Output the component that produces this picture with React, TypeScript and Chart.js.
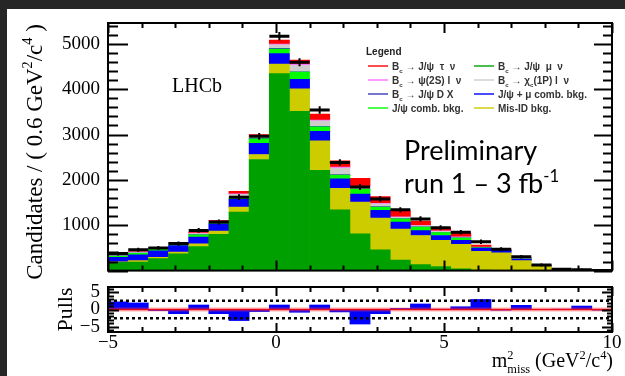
import React, { useEffect, useRef } from 'react';
import { Chart, registerables } from 'chart.js';

Chart.register(...registerables);

// Bin centres of m²_miss in GeV²/c⁴ (0.6 GeV²/c⁴ wide bins)
const M2_MISS = [-4.7, -4.1, -3.5, -2.9, -2.3, -1.7, -1.1, -0.5, 0.1, 0.7, 1.3, 1.9, 2.5, 3.1, 3.7, 4.3, 4.9, 5.5, 6.1, 6.7, 7.3, 7.9, 8.5, 9.1, 9.7];

// Fit components per bin, stacked from the bottom up
const BC_JPSI_MUNU = [185, 190, 265, 370, 530, 800, 1290, 2450, 4345, 3510, 2210, 1340, 810, 460, 230, 130, 90, 40, 10, 5, 0, 0, 0, 0, 0];
const MIS_ID = [10, 30, 30, 40, 60, 70, 110, 110, 210, 500, 650, 475, 700, 700, 686, 645, 580, 540, 415, 385, 220, 100, 25, 12, 4];
const JPSI_MU_COMB = [100, 125, 140, 140, 150, 160, 170, 245, 230, 210, 210, 210, 175, 170, 154, 105, 105, 90, 70, 55, 30, 10, 3, 2, 1];
const JPSI_COMB = [25, 35, 40, 40, 50, 30, 30, 100, 100, 160, 100, 80, 105, 70, 70, 80, 65, 45, 10, 5, 5, 3, 0, 0, 0];
const BC_JPSI_DX = [3, 5, 5, 5, 5, 5, 10, 10, 15, 5, 10, 15, 10, 10, 5, 5, 5, 5, 5, 5, 3, 2, 0, 0, 0];
const BC_CHIC = [5, 20, 10, 15, 20, 20, 70, 25, 80, 140, 120, 140, 40, 60, 30, 20, 20, 15, 5, 5, 5, 3, 0, 0, 0];
const BC_PSI2S = [3, 5, 5, 5, 10, 5, 15, 10, 15, 30, 20, 25, 20, 15, 10, 10, 10, 10, 5, 5, 2, 2, 0, 0, 0];
const BC_JPSI_TAUNU = [5, 10, 10, 10, 25, 20, 55, 50, 90, 85, 130, 135, 175, 145, 140, 95, 70, 80, 45, 15, 20, 5, 2, 1, 0];

// Observed candidates per bin and the fit pulls
const DATA = [375, 460, 500, 595, 885, 1070, 1620, 2960, 5170, 4595, 3540, 2385, 1845, 1580, 1340, 1140, 945, 845, 636, 470, 305, 125, 32, 20, 4];
const PULLS = [2.2, 1.9, -0.3, -1.2, 1.3, -1.2, -3.2, -0.6, 1.3, -0.8, 1.3, -0.7, -4.2, -1.2, 0.3, 1.6, 0.1, 0.8, 2.9, -0.2, 1.2, 0.0, 0.1, 1.0, -0.2];

// Axis ticks and ranges
const X_RANGE = [-5, 10];
const X_TICKS = [-5, 0, 5, 10];
const Y_RANGE = [0, 5460];
const Y_TICKS = [1000, 2000, 3000, 4000, 5000];
const PULL_RANGE = [-6.5, 6.5];
const PULL_TICKS = [-5, 0, 5];
const PULL_LIMITS = [-2.5, 2.5];

const L_TAU = 'B_{c} → J/ψ  τ  ν';
const L_PSI2S = 'B_{c} → ψ(2S) l  ν';
const L_DX = 'B_{c} → J/ψ D X';
const L_JPSI_COMB = 'J/ψ comb. bkg.';
const L_MUNU = 'B_{c} → J/ψ  μ  ν';
const L_CHIC = 'B_{c} → χ_{c}(1P) l  ν';
const L_JPSI_MU = 'J/ψ + μ comb. bkg.';
const L_MISID = 'Mis-ID bkg.';

const SERIES = [
  { label: L_MUNU, data: BC_JPSI_MUNU, color: '#00a000' },
  { label: L_MISID, data: MIS_ID, color: '#cccc00' },
  { label: L_JPSI_MU, data: JPSI_MU_COMB, color: '#0000ff' },
  { label: L_JPSI_COMB, data: JPSI_COMB, color: '#00ff00' },
  { label: L_DX, data: BC_JPSI_DX, color: '#3a3ac0' },
  { label: L_CHIC, data: BC_CHIC, color: '#cdcdcd' },
  { label: L_PSI2S, data: BC_PSI2S, color: '#ff70ff' },
  { label: L_TAU, data: BC_JPSI_TAUNU, color: '#ff0000' },
];

const LEGEND_COLUMNS = [
  [L_TAU, L_PSI2S, L_DX, L_JPSI_COMB],
  [L_MUNU, L_CHIC, L_JPSI_MU, L_MISID],
];

const SERIF = '"Liberation Serif", "DejaVu Serif", serif';
const SANS = '"Liberation Sans", "DejaVu Sans", sans-serif';
const SLIDE_SANS = 'Lato, "Open Sans", sans-serif';

const fmtTick = (v: number) => (v < 0 ? '\u2212' + Math.abs(v) : String(v));

// ---- small rich-text helper: ^{...} raises, _{...} lowers ----
type Seg = { text: string; kind: 'n' | 'sup' | 'sub' };

function parseRich(s: string): Seg[] {
  const out: Seg[] = [];
  let buf = '';
  let i = 0;
  while (i < s.length) {
    const c = s[i];
    if ((c === '^' || c === '_') && s[i + 1] === '{') {
      if (buf) { out.push({ text: buf, kind: 'n' }); buf = ''; }
      const end = s.indexOf('}', i + 2);
      out.push({ text: s.slice(i + 2, end), kind: c === '^' ? 'sup' : 'sub' });
      i = end + 1;
    } else {
      buf += c;
      i++;
    }
  }
  if (buf) out.push({ text: buf, kind: 'n' });
  return out;
}

type RichOpts = {
  size: number;
  family: string;
  weight?: string;
  align?: 'left' | 'right' | 'center';
  color?: string;
  angle?: number;
};

function drawRich(ctx: CanvasRenderingContext2D, s: string, x: number, y: number, o: RichOpts) {
  const weight = o.weight ?? 'normal';
  const small = o.size * 0.62;
  const shift = (k: string) => (k === 'sup' ? -o.size * 0.42 : k === 'sub' ? o.size * 0.3 : 0);
  const segs = parseRich(s);
  const items: { text: string; x: number; dy: number; font: string }[] = [];
  let cx = 0;
  for (let k = 0; k < segs.length; k++) {
    const sg = segs[k];
    const font = `${weight} ${sg.kind === 'n' ? o.size : small}px ${o.family}`;
    ctx.font = font;
    const w = ctx.measureText(sg.text).width;
    items.push({ text: sg.text, x: cx, dy: shift(sg.kind), font });
    const nx = segs[k + 1];
    if (sg.kind !== 'n' && nx && nx.kind !== 'n' && nx.kind !== sg.kind) {
      const w2 = ctx.measureText(nx.text).width;
      items.push({ text: nx.text, x: cx, dy: shift(nx.kind), font });
      cx += Math.max(w, w2);
      k++;
    } else {
      cx += w;
    }
  }
  const start = o.align === 'right' ? -cx : o.align === 'center' ? -cx / 2 : 0;
  ctx.save();
  ctx.translate(x, y);
  if (o.angle) ctx.rotate(o.angle);
  ctx.fillStyle = o.color ?? '#000';
  ctx.textAlign = 'left';
  ctx.textBaseline = 'alphabetic';
  for (const it of items) {
    ctx.font = it.font;
    ctx.fillText(it.text, start + it.x, it.dy);
  }
  ctx.restore();
}

// ---- ROOT-style frame with inward ticks on all four sides ----
type TickSpec = {
  xStep: number; xMajor: number; xMajLen: number; xMinLen: number;
  yStep: number; yMajor: number; yMajLenL: number; yMinLenL: number; yMajLenR: number; yMinLenR: number;
};

function isMultiple(v: number, m: number) {
  return Math.abs(v / m - Math.round(v / m)) < 1e-6;
}

function drawFrame(chart: Chart, t: TickSpec) {
  const { ctx, chartArea: a } = chart;
  const xs = chart.scales.x;
  const ys = chart.scales.y;
  ctx.save();
  ctx.strokeStyle = '#000';
  ctx.lineWidth = 2;
  ctx.beginPath();
  const nx = Math.round((xs.max - xs.min) / t.xStep);
  for (let i = 0; i <= nx; i++) {
    const v = xs.min + i * t.xStep;
    const len = isMultiple(v, t.xMajor) ? t.xMajLen : t.xMinLen;
    const px = Math.round(xs.getPixelForValue(v)) + 0.5;
    ctx.moveTo(px, a.bottom);
    ctx.lineTo(px, a.bottom - len);
    ctx.moveTo(px, a.top);
    ctx.lineTo(px, a.top + len);
  }
  const y0 = Math.ceil(ys.min / t.yStep - 1e-9);
  const y1 = Math.floor(ys.max / t.yStep + 1e-9);
  for (let i = y0; i <= y1; i++) {
    const v = i * t.yStep;
    const major = isMultiple(v, t.yMajor);
    const py = Math.round(ys.getPixelForValue(v)) + 0.5;
    ctx.moveTo(a.left, py);
    ctx.lineTo(a.left + (major ? t.yMajLenL : t.yMinLenL), py);
    ctx.moveTo(a.right, py);
    ctx.lineTo(a.right - (major ? t.yMajLenR : t.yMinLenR), py);
  }
  ctx.stroke();
  ctx.lineWidth = 2;
  ctx.strokeRect(a.left, a.top, a.right - a.left, a.bottom - a.top);
  ctx.restore();
}

const mainDecor = {
  id: 'mainDecor',
  afterDatasetsDraw(chart: Chart) {
    const { ctx } = chart;
    const ys = chart.scales.y;
    const xs = chart.scales.x;
    // vertical Poisson error bars on the data points
    ctx.save();
    ctx.strokeStyle = '#000';
    ctx.lineWidth = 2;
    ctx.beginPath();
    DATA.forEach((d, i) => {
      const px = xs.getPixelForValue(M2_MISS[i]);
      const e = Math.sqrt(d);
      ctx.moveTo(px, ys.getPixelForValue(d + e) - 1);
      ctx.lineTo(px, ys.getPixelForValue(Math.max(d - e, 0)) + 1);
    });
    ctx.stroke();
    ctx.restore();
    drawFrame(chart, {
      xStep: 1, xMajor: 5, xMajLen: 10, xMinLen: 5,
      yStep: 200, yMajor: 1000, yMajLenL: 20, yMinLenL: 10, yMajLenR: 18, yMinLenR: 9,
    });
  },
  afterDraw(chart: Chart) {
    const { ctx } = chart;
    drawRich(ctx, 'Candidates / ( 0.6 GeV^{2}/c^{4} )', 41.5, 152, {
      size: 23, family: SERIF, align: 'center', angle: -Math.PI / 2,
    });
    drawRich(ctx, 'LHCb', 172, 92, { size: 20, family: SERIF });

    // legend, generated from the stacked datasets
    drawRich(ctx, 'Legend', 366, 55, { size: 10, family: SANS, weight: 'bold', color: '#222' });
    const rows = [66, 80, 94, 108];
    const cols = [{ lx: 368, tx: 392 }, { lx: 474, tx: 498 }];
    const dsets = chart.data.datasets;
    LEGEND_COLUMNS.forEach((col, c) => {
      col.forEach((label, r) => {
        const ds = dsets.find((d) => d.label === label);
        const color = ds ? (ds.backgroundColor as string) : '#000';
        ctx.save();
        ctx.globalAlpha = 0.7;
        ctx.strokeStyle = color;
        ctx.lineWidth = 2;
        ctx.beginPath();
        ctx.moveTo(cols[c].lx, rows[r]);
        ctx.lineTo(cols[c].lx + 20, rows[r]);
        ctx.stroke();
        ctx.restore();
        drawRich(ctx, label, cols[c].tx, rows[r] + 3.5, {
          size: 10, family: SANS, weight: 'bold', color: '#333',
        });
      });
    });

    drawRich(ctx, 'Preliminary', 404, 160, { size: 27, family: SLIDE_SANS });
    drawRich(ctx, 'run 1 \u2013 3 fb^{-1}', 404, 193, { size: 27, family: SLIDE_SANS });
  },
};

const pullDecor = {
  id: 'pullDecor',
  afterDatasetsDraw(chart: Chart) {
    const { ctx, chartArea: a } = chart;
    const ys = chart.scales.y;
    ctx.save();
    // uncertainty band and zero line
    const b0 = ys.getPixelForValue(0.6);
    const b1 = ys.getPixelForValue(-0.6);
    ctx.fillStyle = 'rgba(255, 60, 60, 0.35)';
    ctx.fillRect(a.left, b0, a.right - a.left, b1 - b0);
    ctx.strokeStyle = 'rgba(255, 0, 0, 0.85)';
    ctx.lineWidth = 1.5;
    ctx.beginPath();
    ctx.moveTo(a.left, ys.getPixelForValue(0));
    ctx.lineTo(a.right, ys.getPixelForValue(0));
    ctx.stroke();
    // ±limit dashed lines
    ctx.strokeStyle = '#000';
    ctx.lineWidth = 2.5;
    ctx.setLineDash([3, 3]);
    ctx.beginPath();
    PULL_LIMITS.forEach((l) => {
      const py = ys.getPixelForValue(l);
      ctx.moveTo(a.left, py);
      ctx.lineTo(a.right, py);
    });
    ctx.stroke();
    ctx.restore();
    drawFrame(chart, {
      xStep: 1, xMajor: 5, xMajLen: 9, xMinLen: 5,
      yStep: 1, yMajor: 5, yMajLenL: 11, yMinLenL: 6, yMajLenR: 10, yMinLenR: 5,
    });
  },
  afterDraw(chart: Chart) {
    const { ctx } = chart;
    drawRich(ctx, 'Pulls', 72, 309.5, { size: 22, family: SERIF, align: 'center', angle: -Math.PI / 2 });
    drawRich(ctx, 'm^{2}_{miss} (GeV^{2}/c^{4})', 613, 367, { size: 20, family: SERIF, align: 'right' });
  },
};

export default function App() {
  const mainRef = useRef<HTMLCanvasElement | null>(null);
  const pullRef = useRef<HTMLCanvasElement | null>(null);

  useEffect(() => {
    if (!mainRef.current || !pullRef.current) return;
    const tickFont = { family: SERIF, size: 19 };

    const main = new Chart(mainRef.current, {
      type: 'bar',
      data: {
        datasets: [
          ...SERIES.map((s) => ({
            type: 'bar' as const,
            label: s.label,
            data: M2_MISS.map((x, i) => ({ x, y: s.data[i] })),
            backgroundColor: s.color,
            borderWidth: 0,
            stack: 'model',
            order: 1,
            categoryPercentage: 1,
            barPercentage: 1,
          })),
          {
            type: 'line' as const,
            label: 'Data',
            data: M2_MISS.map((x, i) => ({ x, y: DATA[i] })),
            showLine: false,
            pointStyle: 'line',
            pointRadius: 10,
            pointHoverRadius: 10,
            pointBorderWidth: 3,
            pointBorderColor: '#000',
            borderColor: '#000',
            stack: 'data',
            order: 0,
          },
        ],
      } as any,
      options: {
        responsive: false,
        animation: false,
        events: [],
        layout: { padding: { left: 0, right: 13, top: 23, bottom: 6 } },
        plugins: { legend: { display: false }, tooltip: { enabled: false } },
        scales: {
          x: {
            type: 'linear', min: X_RANGE[0], max: X_RANGE[1], offset: false, stacked: true, display: false,
          },
          y: {
            type: 'linear', min: Y_RANGE[0], max: Y_RANGE[1], stacked: true,
            grid: { display: false, drawTicks: false },
            border: { display: false },
            ticks: { font: tickFont, color: '#000', padding: 8, callback: (v: any) => fmtTick(Number(v)) },
            afterBuildTicks: (s: any) => { s.ticks = Y_TICKS.map((v) => ({ value: v })); },
            afterFit: (s: any) => { s.width = 108; },
          },
        },
      } as any,
      plugins: [mainDecor as any],
    });

    const pulls = new Chart(pullRef.current, {
      type: 'bar',
      data: {
        datasets: [
          {
            label: 'Pulls',
            data: M2_MISS.map((x, i) => ({ x, y: PULLS[i] })),
            backgroundColor: '#0000ff',
            borderWidth: 0,
            categoryPercentage: 1,
            barPercentage: 1,
          },
        ],
      } as any,
      options: {
        responsive: false,
        animation: false,
        events: [],
        layout: { padding: { left: 0, right: 13, top: 287, bottom: 14 } },
        plugins: { legend: { display: false }, tooltip: { enabled: false } },
        scales: {
          x: {
            type: 'linear', min: X_RANGE[0], max: X_RANGE[1], offset: false,
            grid: { display: false, drawTicks: false },
            border: { display: false },
            ticks: { font: tickFont, color: '#000', padding: 0, autoSkip: false, maxRotation: 0, callback: (v: any) => fmtTick(Number(v)) },
            afterBuildTicks: (s: any) => { s.ticks = X_TICKS.map((v) => ({ value: v })); },
            afterFit: (s: any) => { s.height = 30; },
          },
          y: {
            type: 'linear', min: PULL_RANGE[0], max: PULL_RANGE[1],
            grid: { display: false, drawTicks: false },
            border: { display: false },
            ticks: { font: tickFont, color: '#000', padding: 8, autoSkip: false, callback: (v: any) => fmtTick(Number(v)) },
            afterBuildTicks: (s: any) => { s.ticks = PULL_TICKS.map((v) => ({ value: v })); },
            afterFit: (s: any) => { s.width = 108; },
          },
        },
      } as any,
      plugins: [pullDecor as any],
    });

    return () => {
      main.destroy();
      pulls.destroy();
    };
  }, []);

  return (
    <div style={{ position: 'fixed', left: 0, top: 0, width: 625, height: 376, background: '#262626', overflow: 'hidden' }}>
      <div style={{ position: 'absolute', left: 7, top: 9, right: 0, bottom: 0, background: '#fff' }} />
      <canvas ref={mainRef} width={625} height={290} style={{ position: 'absolute', left: 0, top: 0 }} />
      <canvas ref={pullRef} width={625} height={376} style={{ position: 'absolute', left: 0, top: 0 }} />
    </div>
  );
}
